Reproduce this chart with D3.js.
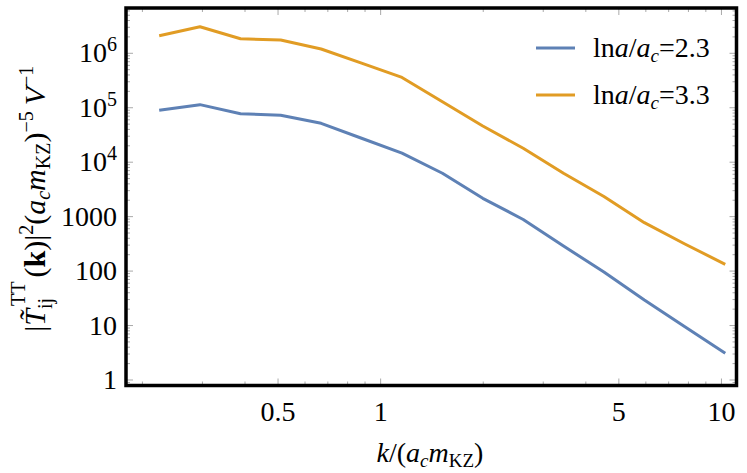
<!DOCTYPE html>
<html>
<head>
<meta charset="utf-8">
<script src="https://cdn.jsdelivr.net/npm/d3@7"></script>
<style>
  body { margin: 0; background: #fff; }
  text { font-family: "Liberation Serif", "Times New Roman", serif; fill: #000; }
</style>
</head>
<body>
<div id="chart"></div>
<script>
// Data
var kValues = [0.224, 0.295, 0.388, 0.509, 0.669, 0.879, 1.155, 1.518, 1.994, 2.62, 3.44, 4.52, 5.94, 7.81, 10.26];
var series23 = [8.98e4, 1.14e5, 7.78e4, 7.27e4, 5.18e4, 2.75e4, 1.47e4, 6.26e3, 2.17e3, 887, 289, 96, 29.4, 9.5, 3.1];
var series33 = [2.10e6, 3.08e6, 1.85e6, 1.75e6, 1.20e6, 6.6e5, 3.6e5, 1.29e5, 4.63e4, 1.8e4, 6.25e3, 2.34e3, 774, 315, 133];
var seriesNames = ["2.3", "3.3"];
var xTickLabels = [0.5, 1, 5, 10];
var yTickExps = [0, 1, 2, 3, 4, 5, 6];

var width = 747;
var height = 473;
var colors = ["#5e81b5", "#e19c24"];

// Plot frame (avoid the name "top", it is window.top)
var plotLeft = 126, plotRight = 736.5, plotTop = 8, plotBottom = 385.5;

var svg = d3.select("#chart")
    .append("svg")
    .attr("width", width)
    .attr("height", height);

var x = d3.scaleLog().domain([0.179, 11.07]).range([plotLeft, plotRight]);
var y = d3.scaleLog().domain([0.792, 6.79e6]).range([plotBottom, plotTop]);

// Minor / major ticks on all four sides
var xMinor = [];
[0.1, 1, 10].forEach(function (d) {
    for (var i = 1; i <= 9; i++) {
        var v = d * i;
        if (v >= 0.179 && v <= 11.07) xMinor.push(v);
    }
});
var yMinor = [];
for (var e = -1; e <= 6; e++) {
    for (var i = 1; i <= 9; i++) {
        var v = Math.pow(10, e) * i;
        if (v >= 0.792 && v <= 6.79e6) yMinor.push(v);
    }
}

var ticks = svg.append("g").attr("stroke", "#aaa").attr("stroke-width", 1);

xMinor.forEach(function (v) {
    var major = xTickLabels.some(function (t) { return Math.abs(t - v) < 1e-6; });
    var len = major ? 7 : 4;
    ticks.append("line").attr("x1", x(v)).attr("x2", x(v)).attr("y1", plotBottom).attr("y2", plotBottom - len);
    ticks.append("line").attr("x1", x(v)).attr("x2", x(v)).attr("y1", plotTop).attr("y2", plotTop + len);
});
yMinor.forEach(function (v) {
    var lg = Math.log10(v);
    var major = Math.abs(lg - Math.round(lg)) < 1e-9;
    var len = major ? 7 : 4;
    ticks.append("line").attr("y1", y(v)).attr("y2", y(v)).attr("x1", plotLeft).attr("x2", plotLeft + len);
    ticks.append("line").attr("y1", y(v)).attr("y2", y(v)).attr("x1", plotRight).attr("x2", plotRight - len);
});

// Curves
var line = d3.line()
    .x(function (d) { return x(d[0]); })
    .y(function (d) { return y(d[1]); });

[series23, series33].forEach(function (s, i) {
    svg.append("path")
        .datum(kValues.map(function (k, j) { return [k, s[j]]; }))
        .attr("fill", "none")
        .attr("stroke", colors[i])
        .attr("stroke-width", 3)
        .attr("stroke-linejoin", "round")
        .attr("d", line);
});

// Frame
svg.append("rect")
    .attr("x", plotLeft).attr("y", plotTop)
    .attr("width", plotRight - plotLeft).attr("height", plotBottom - plotTop)
    .attr("fill", "none").attr("stroke", "#000").attr("stroke-width", 3.5);

// X tick labels
svg.selectAll(".xlab")
    .data(xTickLabels)
    .enter().append("text")
    .attr("class", "xlab")
    .attr("x", function (d) { return x(d); })
    .attr("y", 421)
    .attr("text-anchor", "middle")
    .style("font-size", "28px")
    .text(function (d) { return d; });

// Y tick labels
yTickExps.forEach(function (e) {
    var t = svg.append("text")
        .attr("x", 117)
        .attr("y", y(Math.pow(10, e)) + 9)
        .attr("text-anchor", "end")
        .style("font-size", "28px");
    if (e <= 3) {
        t.text(Math.pow(10, e));
    } else {
        t.append("tspan").text("10");
        t.append("tspan").attr("dy", -11).style("font-size", "20px").text(e);
    }
});

// Legend
seriesNames.forEach(function (n, i) {
    var ly = 48 + i * 47;
    svg.append("line")
        .attr("x1", 536).attr("x2", 575).attr("y1", ly).attr("y2", ly)
        .attr("stroke", colors[i]).attr("stroke-width", 3);
    var t = svg.append("text").attr("x", 593).attr("y", ly + 9).style("font-size", "28px");
    t.append("tspan").text("ln");
    t.append("tspan").style("font-style", "italic").text("a");
    t.append("tspan").text("/");
    t.append("tspan").style("font-style", "italic").text("a");
    t.append("tspan").style("font-style", "italic").style("font-size", "19px").attr("dy", 5).text("c");
    t.append("tspan").attr("dy", -5).text("=" + n);
});

// X axis title
var xt = svg.append("text").attr("x", 430).attr("y", 462).attr("text-anchor", "middle").style("font-size", "28px");
xt.append("tspan").style("font-style", "italic").text("k");
xt.append("tspan").text("/(");
xt.append("tspan").style("font-style", "italic").text("a");
xt.append("tspan").style("font-style", "italic").style("font-size", "19px").attr("dy", 5).text("c");
xt.append("tspan").style("font-style", "italic").attr("dy", -5).text("m");
xt.append("tspan").style("font-size", "19px").attr("dy", 5).text("KZ");
xt.append("tspan").attr("dy", -5).text(")");

// Y axis title
var yt = svg.append("text")
    .attr("transform", "translate(45," + ((plotTop + plotBottom) / 2 + 2) + ") rotate(-90)")
    .attr("text-anchor", "middle")
    .style("font-size", "30px");
yt.append("tspan").text("|");
yt.append("tspan").style("font-style", "italic").text("T\u0303");
yt.append("tspan").style("font-size", "20px").attr("dy", 7).text("ij");
yt.append("tspan").style("font-size", "20px").attr("dx", -8).attr("dy", -27).text("TT");
yt.append("tspan").attr("dx", 4).attr("dy", 20).text("(");
yt.append("tspan").style("font-weight", "bold").text("k");
yt.append("tspan").text(")|");
yt.append("tspan").style("font-size", "20px").attr("dy", -12).text("2");
yt.append("tspan").attr("dy", 12).text("(");
yt.append("tspan").style("font-style", "italic").text("a");
yt.append("tspan").style("font-style", "italic").style("font-size", "20px").attr("dy", 5).text("c");
yt.append("tspan").style("font-style", "italic").attr("dy", -5).text("m");
yt.append("tspan").style("font-size", "20px").attr("dy", 5).text("KZ");
yt.append("tspan").attr("dy", -5).text(")");
yt.append("tspan").style("font-size", "20px").attr("dy", -12).text("\u22125");
yt.append("tspan").style("font-style", "italic").attr("dy", 12).text("\u2009V");
yt.append("tspan").style("font-size", "20px").attr("dy", -12).text("\u22121");
</script>
</body>
</html>
